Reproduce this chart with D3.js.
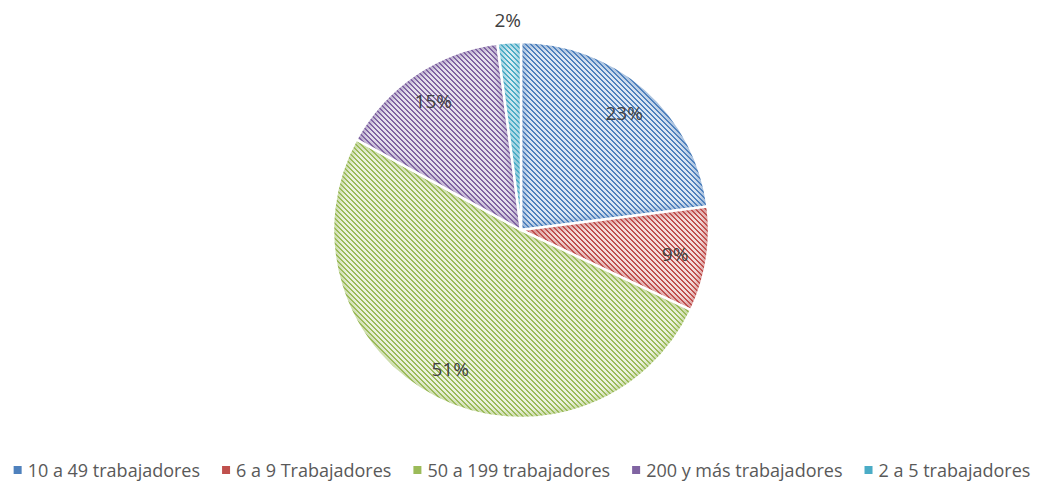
<!DOCTYPE html>
<html>
<head>
<meta charset="utf-8">
<script src="https://cdn.jsdelivr.net/npm/d3@7"></script>
<style>
  body { margin: 0; background: #fff; }
  text { font-family: "Open Sans", "Noto Sans", sans-serif; }
</style>
</head>
<body>
<div id="grafico"></div>
<script>
// Datos
const categorias = ["10 a 49 trabajadores", "6 a 9 Trabajadores", "50 a 199 trabajadores", "200 y más trabajadores", "2 a 5 trabajadores"];
const valores = [23, 9, 51, 15, 2];
const colores = ["#4f81bd", "#c0504d", "#9bbb59", "#8064a2", "#4bacc6"];
const fondos = ["#dce6f2", "#f2dcdb", "#ebf1de", "#e5e0ec", "#dbeef3"];

const width = 1044;
const height = 484;
const cx = 521, cy = 230, radio = 188;

const svg = d3.select("#grafico")
    .append("svg")
    .attr("width", width)
    .attr("height", height);

const defs = svg.append("defs");

// Patrones de rayas diagonales (pixel a pixel, como en Excel)
colores.forEach((c, i) => {
    const p = defs.append("pattern")
        .attr("id", "trama" + i)
        .attr("patternUnits", "userSpaceOnUse")
        .attr("width", 5)
        .attr("height", 5);
    p.append("rect").attr("width", 5).attr("height", 5).attr("fill", fondos[i]);
    for (let y = 0; y < 5; y++) {
        for (let xx = 0; xx < 5; xx++) {
            const k = ((xx - y) % 5 + 5) % 5;
            if (k < 2) {
                p.append("rect")
                    .attr("x", xx).attr("y", y)
                    .attr("width", 1).attr("height", 1)
                    .attr("fill", c)
                    .attr("shape-rendering", "crispEdges");
            }
        }
    }
});

defs.append("filter").attr("id", "difuso")
    .append("feGaussianBlur").attr("stdDeviation", 3);

const pie = d3.pie().sort(null).value(d => d);
const arcos = pie(valores);
const arc = d3.arc().innerRadius(0).outerRadius(radio);

const g = svg.append("g").attr("transform", `translate(${cx},${cy})`);

arcos.forEach((a, i) => {
    defs.append("clipPath").attr("id", "recorte" + i)
        .append("path").attr("d", arc(a));
});

const sectores = g.selectAll("g.sector")
    .data(arcos)
    .enter()
    .append("g")
    .attr("class", "sector");

sectores.append("path")
    .attr("d", arc)
    .attr("fill", (d, i) => `url(#trama${i})`);

// Sombra interior suave en los bordes
sectores.append("path")
    .attr("d", arc)
    .attr("fill", "none")
    .attr("stroke", (d, i) => colores[i])
    .attr("stroke-opacity", 0.5)
    .attr("stroke-width", 8)
    .attr("filter", "url(#difuso)")
    .attr("clip-path", (d, i) => `url(#recorte${i})`);

sectores.append("path")
    .attr("d", arc)
    .attr("fill", "none")
    .attr("stroke", "#fff")
    .attr("stroke-width", 2.5)
    .attr("stroke-linejoin", "round");

// Etiquetas de porcentaje
const total = d3.sum(valores);
g.selectAll("text.etiqueta")
    .data(arcos)
    .enter()
    .append("text")
    .attr("class", "etiqueta")
    .attr("transform", d => {
        const f = d.value / total < 0.05 ? 1.12 : 0.83;
        const r = radio * f;
        const ang = (d.startAngle + d.endAngle) / 2;
        return `translate(${Math.sin(ang) * r},${-Math.cos(ang) * r})`;
    })
    .attr("text-anchor", "middle")
    .attr("dominant-baseline", "central")
    .attr("font-size", 19)
    .attr("fill", "#404040")
    .text(d => Math.round(d.value / total * 100) + "%");

// Leyenda
const leyenda = svg.append("g");
const items = leyenda.selectAll("g")
    .data(categorias)
    .enter()
    .append("g");

items.append("rect")
    .attr("width", 8)
    .attr("height", 8)
    .attr("y", -4)
    .attr("fill", (d, i) => colores[i]);

items.append("text")
    .attr("x", 14)
    .attr("dominant-baseline", "central")
    .attr("font-size", 18)
    .attr("fill", "#595959")
    .text(d => d);

let x = 0;
items.each(function() {
    const w = this.getBBox().width;
    d3.select(this).attr("transform", `translate(${x},0)`);
    x += w + 22;
});
const ancho = x - 22;
leyenda.attr("transform", `translate(${(width - ancho) / 2},${470})`);
</script>
</body>
</html>
